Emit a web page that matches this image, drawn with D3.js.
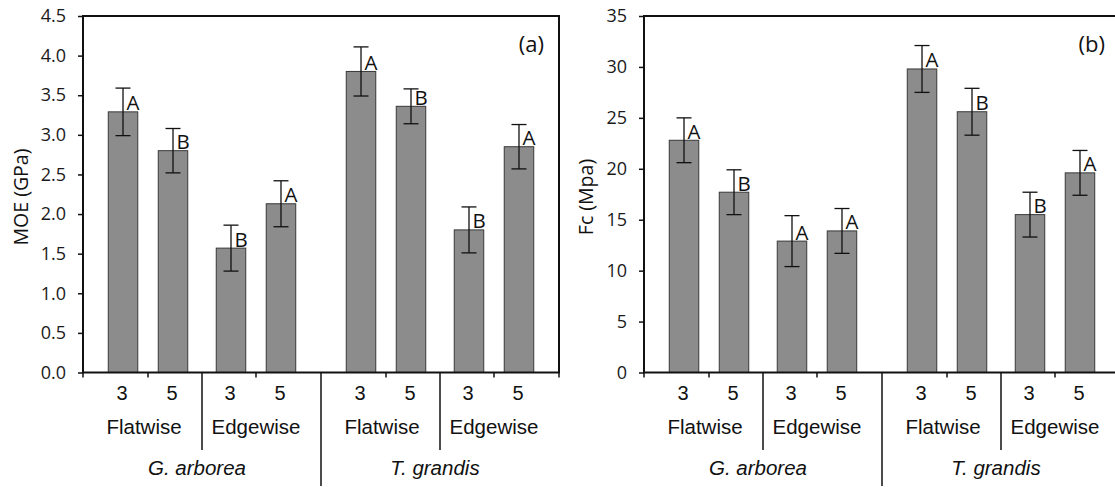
<!DOCTYPE html>
<html>
<head>
<meta charset="utf-8">
<script src="https://cdn.jsdelivr.net/npm/d3@7"></script>
<style>
  html, body { margin: 0; padding: 0; background: #fff; }
  svg { display: block; }
</style>
</head>
<body>
<svg id="chart" width="1115" height="487"></svg>
<script>
// ---------------- DATA ----------------
const species = ["G. arborea", "T. grandis"];
const orientations = ["Flatwise", "Edgewise"];
const thicknesses = ["3", "5"];

// order: species -> orientation -> thickness
const moeValues  = [3.29, 2.80, 1.57, 2.13, 3.80, 3.36, 1.80, 2.85];
const moeErrors  = [0.30, 0.28, 0.29, 0.29, 0.31, 0.22, 0.29, 0.28];
const moeLetters = ["A", "B", "B", "A", "A", "B", "B", "A"];
const moeTicks   = [0, 0.5, 1.0, 1.5, 2.0, 2.5, 3.0, 3.5, 4.0, 4.5];

const fcValues  = [22.8, 17.7, 12.9, 13.9, 29.8, 25.6, 15.5, 19.6];
const fcErrors  = [2.2, 2.2, 2.5, 2.2, 2.3, 2.3, 2.2, 2.2];
const fcLetters = ["A", "B", "A", "A", "A", "B", "B", "A"];
const fcTicks   = [0, 5, 10, 15, 20, 25, 30, 35];

const panels = [
  { key: "a", title: "MOE (GPa)", label: "(a)", values: moeValues, errors: moeErrors,
    letters: moeLetters, ticks: moeTicks, max: 4.5, fmt: d3.format(".1f"),
    x0: 83, titleX: 20 },
  { key: "b", title: "Fc (Mpa)", label: "(b)", values: fcValues, errors: fcErrors,
    letters: fcLetters, ticks: fcTicks, max: 35, fmt: d3.format("d"),
    x0: 644, titleX: 585 }
];

// ---------------- LAYOUT ----------------
const svg = d3.select("#chart");
svg.append("rect").attr("width", 1115).attr("height", 487).attr("fill", "#fff");

const panelW = 476, yTop = 16, yBot = 372.5;
const tickFont = "'Open Sans', 'DejaVu Sans', sans-serif";
const catFont = "'Liberation Sans', Arial, sans-serif";

panels.forEach(p => {
  const g = svg.append("g");
  const x0 = p.x0, x1 = p.x0 + panelW;

  const y = d3.scaleLinear().domain([0, p.max]).range([yBot, yTop]);
  const xSpecies = d3.scaleBand().domain(species).range([x0, x1]).padding(0);
  const xOrient = d3.scaleBand().domain(orientations).range([0, xSpecies.bandwidth()])
    .paddingInner(0).paddingOuter(0.102);
  const xThick = d3.scaleBand().domain(thicknesses).range([0, xOrient.bandwidth()])
    .paddingInner(0.41).paddingOuter(0.285);

  const items = [];
  species.forEach((s, si) => orientations.forEach((o, oi) => thicknesses.forEach((t, ti) => {
    const i = si * 4 + oi * 2 + ti;
    items.push({ s, o, t, v: p.values[i], e: p.errors[i], l: p.letters[i],
      x: xSpecies(s) + xOrient(o) + xThick(t) });
  })));
  const bw = xThick.bandwidth();

  // bars
  g.selectAll("rect.bar").data(items).join("rect")
    .attr("class", "bar")
    .attr("x", d => d.x).attr("width", bw)
    .attr("y", d => y(d.v)).attr("height", d => y(0) - y(d.v))
    .attr("fill", "#8c8c8c").attr("stroke", "#383838").attr("stroke-width", 1);

  // error bars
  const cap = 7.5;
  const eb = g.selectAll("g.err").data(items).join("g").attr("class", "err")
    .attr("stroke", "#111").attr("stroke-width", 1.3);
  eb.append("line")
    .attr("x1", d => d.x + bw / 2).attr("x2", d => d.x + bw / 2)
    .attr("y1", d => y(d.v + d.e)).attr("y2", d => y(d.v - d.e));
  eb.append("line")
    .attr("x1", d => d.x + bw / 2 - cap).attr("x2", d => d.x + bw / 2 + cap)
    .attr("y1", d => y(d.v + d.e)).attr("y2", d => y(d.v + d.e));
  eb.append("line")
    .attr("x1", d => d.x + bw / 2 - cap).attr("x2", d => d.x + bw / 2 + cap)
    .attr("y1", d => y(d.v - d.e)).attr("y2", d => y(d.v - d.e));

  // letters
  g.selectAll("text.letter").data(items).join("text")
    .attr("class", "letter")
    .attr("x", d => d.x + bw / 2 + 3.5).attr("y", d => y(d.v) - 1.5)
    .attr("font-family", tickFont).attr("font-size", 20.5).attr("fill", "#111")
    .text(d => d.l);

  // frame
  g.append("rect").attr("x", x0).attr("y", yTop).attr("width", panelW).attr("height", yBot - yTop)
    .attr("fill", "none").attr("stroke", "#111").attr("stroke-width", 2);

  // y axis
  const yAxis = d3.axisLeft(y).tickValues(p.ticks).tickSize(5).tickPadding(12).tickFormat(p.fmt);
  const ya = g.append("g").attr("transform", `translate(${x0},0)`).call(yAxis);
  ya.select(".domain").remove();
  ya.selectAll(".tick line").attr("stroke", "#111").attr("stroke-width", 1.5);
  ya.selectAll(".tick text").attr("font-family", tickFont).attr("font-size", 18).attr("fill", "#1a1a1a");

  // y title
  g.append("text")
    .attr("transform", `translate(${p.titleX},197) rotate(-90)`)
    .attr("text-anchor", "middle").attr("dominant-baseline", "central")
    .attr("font-family", tickFont).attr("font-size", 19.5).attr("fill", "#111")
    .text(p.title);

  // panel label
  g.append("text").attr("x", x0 + 461).attr("y", 52).attr("text-anchor", "end")
    .attr("font-family", tickFont).attr("font-size", 22).attr("fill", "#111")
    .text(p.label);

  // x axis small ticks (between thickness bars and at ends)
  const smallTicks = [x0, x1];
  species.forEach(s => orientations.forEach(o => {
    const base = xSpecies(s) + xOrient(o);
    smallTicks.push(base + (xThick("3") + bw + xThick("5")) / 2);
  }));
  g.selectAll("line.stick").data(smallTicks).join("line").attr("class", "stick")
    .attr("x1", d => d).attr("x2", d => d).attr("y1", yBot).attr("y2", yBot + 5)
    .attr("stroke", "#111").attr("stroke-width", 1.5);

  // orientation separators
  g.selectAll("line.osep").data(species).join("line").attr("class", "osep")
    .attr("x1", s => xSpecies(s) + xOrient("Edgewise")).attr("x2", s => xSpecies(s) + xOrient("Edgewise"))
    .attr("y1", yBot).attr("y2", 450).attr("stroke", "#111").attr("stroke-width", 1.5);
  // species separator
  g.selectAll("line.ssep").data(species.slice(1)).join("line").attr("class", "ssep")
    .attr("x1", s => xSpecies(s)).attr("x2", s => xSpecies(s))
    .attr("y1", yBot).attr("y2", 486).attr("stroke", "#111").attr("stroke-width", 1.5);

  // thickness labels
  g.selectAll("text.thick").data(items).join("text").attr("class", "thick")
    .attr("x", d => d.x + bw / 2 - 1).attr("y", 400).attr("text-anchor", "middle")
    .attr("font-family", catFont).attr("font-size", 20).attr("fill", "#111")
    .text(d => d.t);

  // orientation labels
  const orientItems = [];
  species.forEach(s => orientations.forEach(o => orientItems.push({ s, o })));
  g.selectAll("text.orient").data(orientItems).join("text").attr("class", "orient")
    .attr("x", d => xSpecies(d.s) + xOrient(d.o) + xOrient.bandwidth() / 2 + (d.o === "Flatwise" ? -4 : 0))
    .attr("y", 434).attr("text-anchor", "middle")
    .attr("font-family", catFont).attr("font-size", 20.5).attr("fill", "#111")
    .text(d => d.o);

  // species labels
  g.selectAll("text.species").data(species).join("text").attr("class", "species")
    .attr("x", s => xSpecies(s) + xSpecies.bandwidth() / 2 - 5).attr("y", 475)
    .attr("text-anchor", "middle").attr("font-style", "italic")
    .attr("font-family", catFont).attr("font-size", 20.5).attr("fill", "#111")
    .text(s => s);
});
</script>
</body>
</html>
